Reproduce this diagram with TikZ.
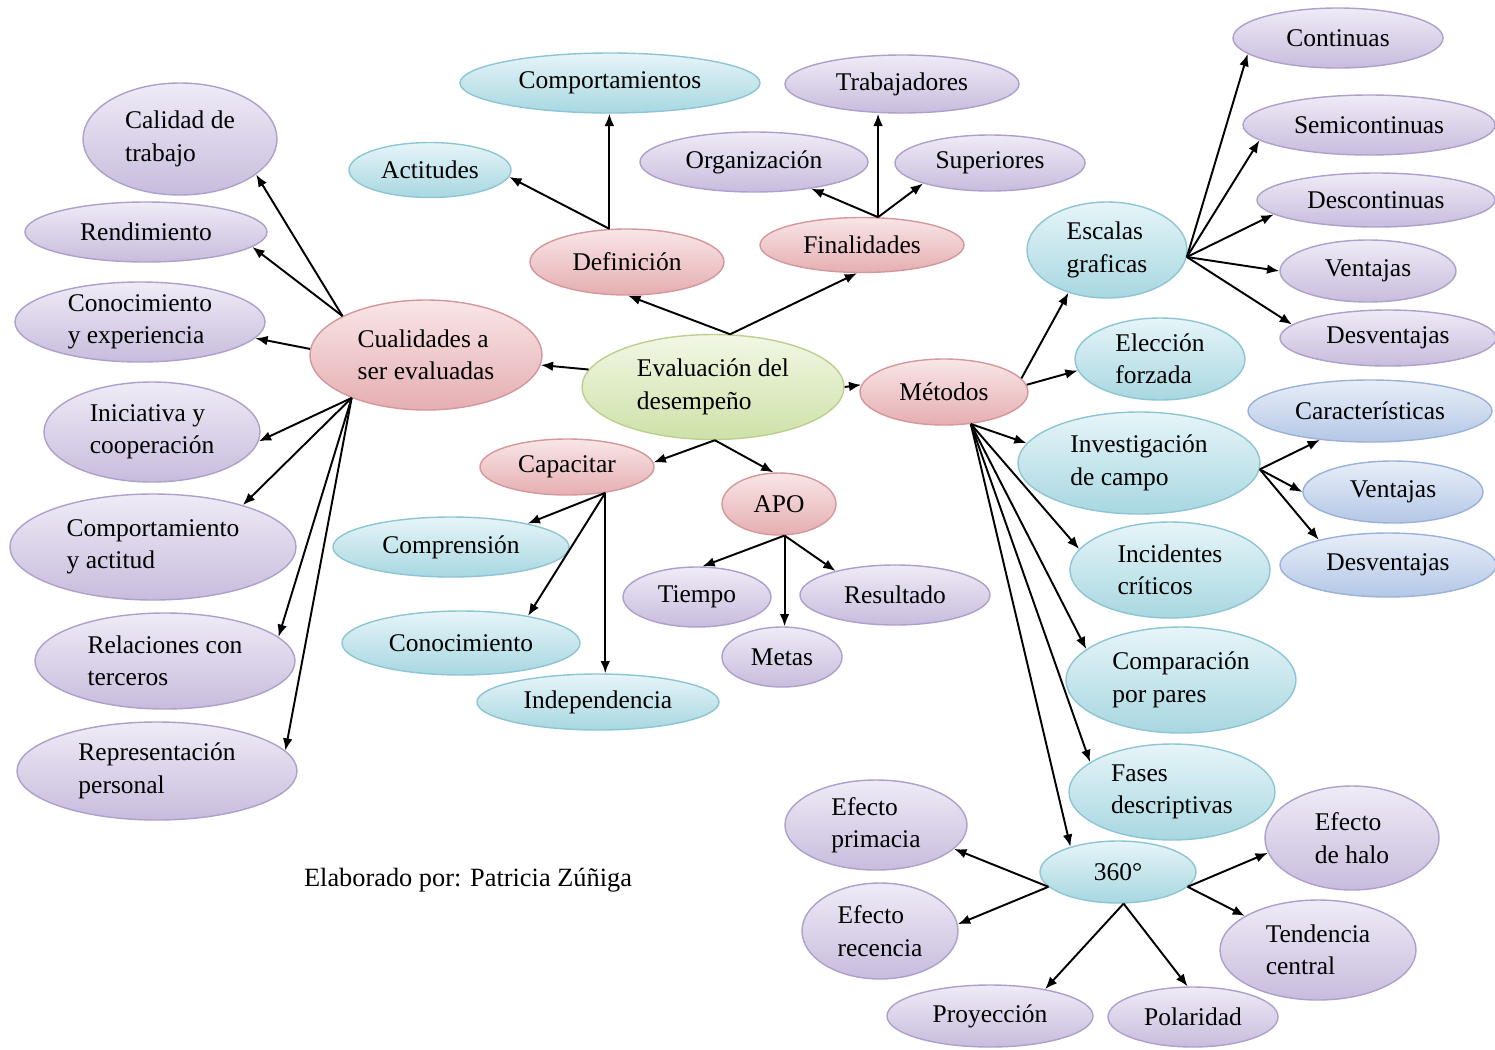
\documentclass[tikz,border=0pt]{standalone}
\usepackage{fontspec}
\setmainfont{Liberation Serif}
\usepackage{tikz}
\usetikzlibrary{shapes.geometric, arrows.meta, calc}

\definecolor{lilaL}{HTML}{EFEBF6}
\definecolor{lilaD}{HTML}{C8BCDD}
\definecolor{lilaB}{HTML}{AE9FCB}
\definecolor{turqL}{HTML}{E6F5F8}
\definecolor{turqD}{HTML}{A8D7E1}
\definecolor{turqB}{HTML}{8EC5D2}
\definecolor{rosaL}{HTML}{F9E6E7}
\definecolor{rosaD}{HTML}{E5AEB2}
\definecolor{rosaB}{HTML}{D4979C}
\definecolor{verdeL}{HTML}{F2F7E5}
\definecolor{verdeD}{HTML}{CEE1A8}
\definecolor{verdeB}{HTML}{B9D08E}
\definecolor{azulL}{HTML}{E8EEF8}
\definecolor{azulD}{HTML}{B4C7E6}
\definecolor{azulB}{HTML}{9AB2DA}

\tikzset{
  idea/.style = {
      ellipse,
      inner sep=0pt,
      align=left,
      line width=0.8pt,
      font=\fontsize{14.5}{18.5}\selectfont
  },
  sz/.style 2 args = {
      minimum width=#1*0.02cm,
      minimum height=#2*0.02cm
  },
  lila/.style = {
      idea,
      draw=lilaB,
      top color=lilaL,
      bottom color=lilaD
  },
  turq/.style = {
      idea,
      draw=turqB,
      top color=turqL,
      bottom color=turqD
  },
  rosa/.style = {
      idea,
      draw=rosaB,
      top color=rosaL,
      bottom color=rosaD
  },
  verde/.style = {
      idea,
      draw=verdeB,
      top color=verdeL,
      bottom color=verdeD
  },
  azul/.style = {
      idea,
      draw=azulB,
      top color=azulL,
      bottom color=azulD
  },
  flecha/.style = {
      -{Latex[length=7pt,width=5.5pt]},
      line width=1.1pt
  },
  firma/.style = {
      font=\fontsize{15}{18}\selectfont
  }
}

\begin{document}
\begin{tikzpicture}[x=0.02cm, y=-0.02cm]
    \useasboundingbox (0,0) rectangle (1495,1049);

    % centro y ramas principales
    \node[verde, sz={262}{105}] (ev) at (713,387) {Evaluación del\\desempeño};
    \node[rosa, sz={232}{110}] (cual) at (426,355) {Cualidades a\\ser evaluadas};
    \node[rosa, sz={194}{66}] (defi) at (627,262) {Definición};
    \node[rosa, sz={204}{55}] (fina) at (862,245) {Finalidades};
    \node[rosa, sz={168}{66}] (meto) at (944,392) {Métodos};
    \node[rosa, sz={174}{56}] (capa) at (567,467) {Capacitar};
    \node[rosa, sz={114}{62}] (apo) at (779,504) {APO};

    % definicion y finalidades
    \node[turq, sz={162}{55}] (act) at (430,170) {Actitudes};
    \node[turq, sz={300}{60}] (comp) at (610,83) {Comportamientos};
    \node[lila, sz={228}{60}] (org) at (754,162) {Organización};
    \node[lila, sz={234}{58}] (trab) at (902,84) {Trabajadores};
    \node[lila, sz={190}{56}] (sup) at (990,163) {Superiores};

    % cualidades
    \node[lila, sz={194}{112}] (cal) at (180,139) {Calidad de\\trabajo};
    \node[lila, sz={242}{60}] (ren) at (146,232) {Rendimiento};
    \node[lila, sz={250}{80}] (coe) at (140,322) {Conocimiento\\y experiencia};
    \node[lila, sz={216}{100}] (ini) at (152,432) {Iniciativa y\\cooperación};
    \node[lila, sz={286}{106}] (cya) at (153,547) {Comportamiento\\y actitud};
    \node[lila, sz={260}{96}] (rel) at (165,661) {Relaciones con\\terceros};
    \node[lila, sz={280}{98}] (rep) at (157,771) {Representación\\personal};

    % capacitar y APO
    \node[turq, sz={236}{60}] (cpr) at (451,547) {Comprensión};
    \node[turq, sz={238}{64}] (cnt) at (461,643) {Conocimiento};
    \node[turq, sz={242}{56}] (ind) at (598,702) {Independencia};
    \node[lila, sz={148}{60}] (tie) at (697,597) {Tiempo};
    \node[lila, sz={120}{60}] (metas) at (782,657) {Metas};
    \node[lila, sz={190}{60}] (res) at (895,595) {Resultado};

    % metodos
    \node[turq, sz={160}{96}] (esc) at (1107,250) {Escalas\\graficas};
    \node[turq, sz={170}{82}] (ele) at (1160,359) {Elección\\forzada};
    \node[turq, sz={242}{102}] (inv) at (1139,463) {Investigación\\de campo};
    \node[turq, sz={200}{96}] (inc) at (1170,570) {Incidentes\\críticos};
    \node[turq, sz={230}{106}] (cmpp) at (1181,680) {Comparación\\por pares};
    \node[turq, sz={206}{96}] (fas) at (1172,792) {Fases\\descriptivas};
    \node[turq, sz={156}{62}] (s360) at (1118,872) {360°};

    \node[lila, sz={210}{60}] (cont) at (1338,38) {Continuas};
    \node[lila, sz={252}{60}] (semi) at (1369,125) {Semicontinuas};
    \node[lila, sz={238}{54}] (desc) at (1376,200) {Descontinuas};
    \node[lila, sz={176}{62}] (vent) at (1368,271) {Ventajas};
    \node[lila, sz={216}{56}] (desv) at (1388,338) {Desventajas};

    \node[azul, sz={244}{62}] (cara) at (1370,411) {Características};
    \node[azul, sz={180}{62}] (vent2) at (1393,492) {Ventajas};
    \node[azul, sz={216}{64}] (desv2) at (1388,565) {Desventajas};

    \node[lila, sz={182}{90}] (efp) at (876,825) {Efecto\\primacia};
    \node[lila, sz={156}{96}] (erc) at (880,931) {Efecto\\recencia};
    \node[lila, sz={206}{62}] (proy) at (990,1016) {Proyección};
    \node[lila, sz={170}{60}] (pola) at (1193,1017) {Polaridad};
    \node[lila, sz={174}{104}] (halo) at (1352,838) {Efecto\\de halo};
    \node[lila, sz={196}{100}] (tend) at (1318,950) {Tendencia\\central};

    \node[firma] (autor) at (468,880) {Elaborado por: Patricia Zúñiga};

    % Edges
    \draw[flecha] (ev.172) -- (cual.-5);
    \draw[flecha] (ev.72) -- (defi.-88);
    \draw[flecha] (ev.72) -- (fina.-100);
    \draw[flecha] (ev.0) -- (meto.175);
    \draw[flecha] (ev.-88) -- (capa.3);
    \draw[flecha] (ev.-88) -- (apo.100);

    \draw[flecha] (defi.118) -- (act.-5);
    \draw[flecha] (defi.118) -- (defi.118 |- comp.south);
    \draw[flecha] (fina.60) -- (org.-25);
    \draw[flecha] (fina.60) -- (fina.60 |- trab.south);
    \draw[flecha] (fina.60) -- (sup.197);

    \draw[flecha] (cual.155) -- (cal.-25);
    \draw[flecha] (cual.155) -- (ren.-8);
    \draw[flecha] (cual.177) -- (coe.-8);
    \draw[flecha] (cual.210) -- (ini.-5);
    \draw[flecha] (cual.210) -- (cya.25);
    \draw[flecha] (cual.210) -- (rel.12);
    \draw[flecha] (cual.210) -- (rep.9);

    \draw[flecha] (capa.-34) -- (cpr.17);
    \draw[flecha] (capa.-34) -- (cnt.22);
    \draw[flecha] (capa.-34) -- (capa.-34 |- ind.north);
    \draw[flecha] (apo.-80) -- (tie.80);
    \draw[flecha] (apo.-80) -- (apo.-80 |- metas.north);
    \draw[flecha] (apo.-80) -- (res.158);

    \draw[flecha] (meto.10) -- (esc.228);
    \draw[flecha] (meto.5) -- (ele.188);
    \draw[flecha] (meto.-50) -- (inv.170);
    \draw[flecha] (meto.-50) -- (inc.167);
    \draw[flecha] (meto.-50) -- (cmpp.162);
    \draw[flecha] (meto.-50) -- (fas.160);
    \draw[flecha] (meto.-50) -- (s360.152);

    \draw[flecha] (esc.-5) -- (cont.190);
    \draw[flecha] (esc.-5) -- (semi.188);
    \draw[flecha] (esc.-5) -- (desc.188);
    \draw[flecha] (esc.-5) -- (vent.180);
    \draw[flecha] (esc.-5) -- (desv.172);

    \draw[flecha] (inv.-3) -- (cara.210);
    \draw[flecha] (inv.-3) -- (vent2.180);
    \draw[flecha] (inv.-3) -- (desv2.160);

    \draw[flecha] (s360.192) -- (efp.-17);
    \draw[flecha] (s360.192) -- (erc.5);
    \draw[flecha] (s360.-80) -- (proy.26);
    \draw[flecha] (s360.-80) -- (pola.100);
    \draw[flecha] (s360.-12) -- (halo.190);
    \draw[flecha] (s360.-12) -- (tend.155);
\end{tikzpicture}
\end{document}
